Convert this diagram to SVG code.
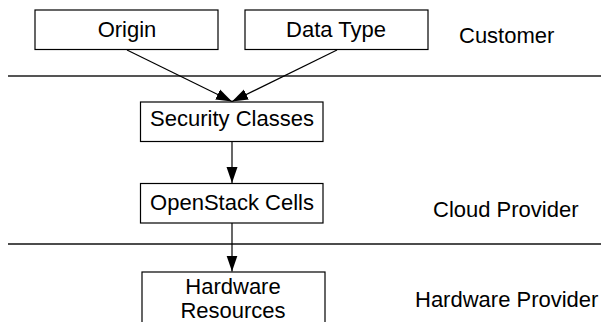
<svg xmlns="http://www.w3.org/2000/svg" width="601" height="322" viewBox="0 0 601 322">
<style>
.box{fill:#fff;stroke:#000;stroke-width:1.2}
.t{font-family:"Liberation Sans",Arial,sans-serif;font-size:22px;fill:#000}
.c{text-anchor:middle}
.edge{stroke:#000;stroke-width:1.2;fill:none;marker-end:url(#ah)}
</style>
<defs>
<marker id="ah" markerUnits="userSpaceOnUse" markerWidth="17" markerHeight="12" refX="16" refY="6" orient="auto">
<path d="M0,0.5 L16,6 L0,11.5 z" fill="#000"/>
</marker>
</defs>
<g id="separators">
<line x1="8" y1="76" x2="601" y2="76" stroke="#555" stroke-width="2"/>
<line x1="8" y1="244" x2="601" y2="244" stroke="#111" stroke-width="1.6"/>
</g>
<g id="origin"><rect class="box" x="35" y="10" width="183" height="39.5"/><text class="t c" x="127" y="37">Origin</text></g>
<g id="datatype"><rect class="box" x="245" y="10" width="183" height="39.5"/><text class="t c" x="336" y="37">Data Type</text></g>
<g id="security"><rect class="box" x="140.5" y="102" width="182.5" height="39.5"/><text class="t c" x="232" y="126">Security Classes</text></g>
<g id="openstack"><rect class="box" x="140.5" y="183.5" width="182.5" height="39.5"/><text class="t c" x="232" y="210">OpenStack Cells</text></g>
<g id="hardware"><rect class="box" x="142" y="272" width="183" height="60"/><text class="t c" x="233" y="294">Hardware</text><text class="t c" x="233" y="318">Resources</text></g>
<g id="labels">
<text class="t" x="459" y="43">Customer</text>
<text class="t" x="433" y="217">Cloud Provider</text>
<text class="t" x="415" y="307">Hardware Provider</text>
</g>
<g id="connectors">
<line class="edge" x1="127" y1="50" x2="232" y2="101.5"/>
<line class="edge" x1="337" y1="50" x2="232" y2="101.5"/>
<line class="edge" x1="232" y1="141.5" x2="232" y2="183"/>
<line class="edge" x1="232" y1="223" x2="232" y2="271.5"/>
</g>
</svg>
